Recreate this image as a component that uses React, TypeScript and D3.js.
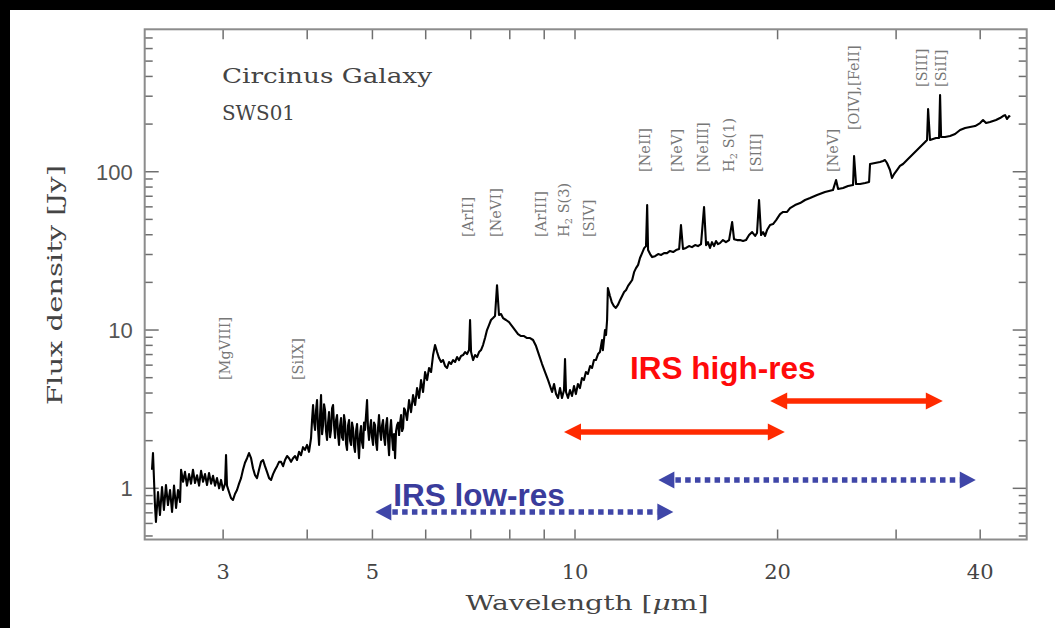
import React from "react";
import * as d3 from "d3";

const W = 1055;
const H = 628;

// Circinus Galaxy ISO-SWS01 spectrum: [wavelength (µm), flux density (Jy)]
const spectrum: [number, number][] = [
  [2.352, 1.31], [2.36, 1.67], [2.376, 0.784], [2.384, 0.613], [2.401, 0.948], [2.417, 0.678],
  [2.434, 1.02], [2.45, 0.73], [2.467, 1.05], [2.484, 0.784], [2.502, 0.976], [2.519, 0.709],
  [2.536, 1.04], [2.554, 0.751], [2.571, 0.976], [2.589, 0.82], [2.598, 1.31], [2.616, 1.1],
  [2.633, 1.27], [2.651, 1.04], [2.67, 1.23], [2.688, 1.07], [2.706, 1.31], [2.725, 1.08],
  [2.744, 1.21], [2.763, 1.04], [2.782, 1.29], [2.801, 1.1], [2.82, 1.23], [2.839, 1.05],
  [2.859, 1.25], [2.879, 1.07], [2.898, 1.2], [2.918, 1.04], [2.938, 1.16], [2.959, 1.0],
  [2.979, 1.13], [2.999, 0.976], [3.02, 1.07], [3.03, 1.62], [3.04, 1.04], [3.061, 0.948],
  [3.082, 0.869], [3.103, 0.844], [3.124, 0.921], [3.146, 0.976], [3.168, 1.07], [3.19, 1.16],
  [3.211, 1.31], [3.233, 1.45], [3.256, 1.55], [3.278, 1.67], [3.301, 1.55], [3.323, 1.34],
  [3.346, 1.21], [3.369, 1.16], [3.392, 1.31], [3.416, 1.47], [3.439, 1.51], [3.462, 1.38],
  [3.486, 1.27], [3.511, 1.16], [3.535, 1.13], [3.559, 1.23], [3.584, 1.31], [3.608, 1.38],
  [3.633, 1.47], [3.658, 1.47], [3.683, 1.38], [3.708, 1.51], [3.734, 1.6], [3.759, 1.55],
  [3.785, 1.47], [3.811, 1.55], [3.837, 1.6], [3.863, 1.51], [3.89, 1.7], [3.916, 1.62],
  [3.943, 1.82], [3.97, 1.75], [3.998, 1.88], [4.025, 1.7], [4.053, 2.08], [4.067, 2.7],
  [4.081, 3.36], [4.095, 2.62], [4.109, 2.34], [4.123, 3.12], [4.137, 3.61], [4.151, 2.4],
  [4.166, 1.88], [4.18, 2.9], [4.194, 3.88], [4.209, 2.2], [4.223, 2.51], [4.237, 3.4],
  [4.252, 3.12], [4.266, 2.3], [4.281, 2.02], [4.296, 2.6], [4.31, 3.03], [4.325, 2.1],
  [4.34, 2.34], [4.355, 3.2], [4.37, 3.36], [4.385, 2.5], [4.4, 2.08], [4.415, 2.7],
  [4.43, 2.9], [4.445, 2.2], [4.46, 1.88], [4.476, 2.5], [4.491, 2.78], [4.506, 2.1],
  [4.522, 2.02], [4.537, 2.9], [4.553, 2.62], [4.569, 1.9], [4.584, 1.75], [4.6, 2.5],
  [4.616, 2.7], [4.632, 2.0], [4.648, 1.88], [4.663, 2.6], [4.679, 2.4], [4.695, 1.85],
  [4.711, 1.7], [4.727, 2.3], [4.744, 2.55], [4.76, 1.9], [4.776, 1.55], [4.793, 2.2],
  [4.809, 2.47], [4.825, 1.95], [4.842, 1.8], [4.858, 2.6], [4.875, 2.34], [4.892, 2.9],
  [4.909, 3.61], [4.925, 2.4], [4.942, 2.02], [4.959, 2.4], [4.976, 2.7], [4.993, 2.1],
  [5.011, 1.88], [5.028, 2.6], [5.045, 2.51], [5.062, 1.95], [5.08, 1.75], [5.097, 2.4],
  [5.114, 2.9], [5.132, 2.3], [5.15, 2.02], [5.167, 2.5], [5.185, 2.7], [5.203, 2.1],
  [5.221, 1.88], [5.239, 2.5], [5.257, 2.78], [5.275, 2.0], [5.293, 1.62], [5.311, 2.3],
  [5.329, 2.7], [5.348, 2.1], [5.366, 1.75], [5.384, 2.2], [5.403, 1.55], [5.421, 2.3],
  [5.44, 2.51], [5.459, 2.6], [5.477, 2.17], [5.496, 2.6], [5.515, 2.9], [5.534, 2.3],
  [5.553, 2.4], [5.572, 3.2], [5.591, 3.12], [5.629, 2.7],
  [5.668, 3.61], [5.706, 3.03], [5.746, 3.88], [5.786, 3.36], [5.825, 4.3], [5.865, 3.72],
  [5.905, 4.83], [5.946, 4.06], [5.987, 5.43], [6.028, 4.83], [6.069, 5.76], [6.111, 5.43],
  [6.153, 6.95], [6.195, 8.04], [6.238, 7.26], [6.28, 6.65], [6.324, 6.28], [6.367, 6.46],
  [6.411, 5.93], [6.455, 5.76], [6.499, 6.28], [6.544, 6.1], [6.589, 6.46], [6.634, 6.28],
  [6.679, 6.75], [6.725, 6.46], [6.771, 6.85], [6.818, 6.95], [6.865, 7.26], [6.912, 7.05],
  [6.959, 7.47], [6.983, 11.57], [7.007, 7.26], [7.055, 6.46], [7.103, 6.95], [7.152, 6.75],
  [7.201, 7.26], [7.25, 7.47], [7.3, 8.04], [7.35, 8.9], [7.4, 10.0], [7.451, 10.75],
  [7.502, 11.57], [7.554, 11.9], [7.606, 12.26], [7.658, 19.2], [7.71, 12.44], [7.764, 12.62],
  [7.817, 11.9], [7.898, 11.57], [7.979, 11.23], [8.062, 10.6], [8.145, 10.0], [8.229, 9.42],
  [8.314, 9.16], [8.4, 9.16], [8.487, 8.9], [8.574, 8.9], [8.663, 8.65], [8.752, 7.92],
  [8.843, 6.95], [8.934, 6.1], [9.026, 5.43], [9.12, 4.83], [9.182, 4.43], [9.245, 4.06],
  [9.308, 4.56], [9.371, 3.94], [9.435, 3.72], [9.5, 4.3], [9.565, 3.72], [9.63, 4.18],
  [9.664, 6.56], [9.697, 4.06], [9.763, 3.72], [9.83, 4.18], [9.897, 3.83], [9.966, 4.43],
  [10.03, 3.94], [10.1, 4.56], [10.17, 4.3], [10.24, 4.97], [10.31, 4.83], [10.38, 5.43],
  [10.45, 5.28], [10.53, 5.93], [10.6, 5.76], [10.67, 6.46], [10.74, 6.46], [10.82, 7.05],
  [10.89, 7.26], [10.97, 8.65], [11.0, 7.47], [11.08, 10.0], [11.12, 9.3], [11.16, 11.57],
  [11.19, 18.4], [11.27, 16.4], [11.34, 15.0], [11.42, 14.2], [11.5, 13.8], [11.58, 14.4],
  [11.67, 15.5], [11.75, 16.4], [11.83, 17.4], [11.91, 17.9], [11.99, 19.0], [12.07, 19.8],
  [12.16, 20.7], [12.24, 23.2], [12.32, 24.6], [12.41, 25.8], [12.49, 28.5], [12.58, 30.6],
  [12.67, 32.9], [12.75, 33.9], [12.8, 61.6], [12.84, 32.0], [12.93, 30.2], [13.02, 28.9],
  [13.15, 29.3], [13.29, 30.2], [13.43, 29.8], [13.56, 30.6], [13.7, 30.6], [13.84, 31.6],
  [13.99, 31.1], [14.13, 32.0], [14.28, 32.5], [14.37, 46.1], [14.47, 32.5], [14.62, 33.0],
  [14.77, 33.9], [14.92, 33.4], [15.08, 34.4], [15.23, 33.9], [15.39, 34.9], [15.55, 59.8],
  [15.66, 34.4], [15.76, 35.9], [15.87, 33.0], [15.98, 35.9], [16.09, 33.9], [16.2, 36.5],
  [16.31, 34.9], [16.42, 35.4], [16.59, 37.0], [16.76, 35.9], [16.94, 37.0], [17.12, 48.1],
  [17.23, 37.5], [17.41, 37.0], [17.59, 37.0], [17.77, 36.5], [17.95, 37.0], [18.14, 39.8],
  [18.33, 41.6], [18.52, 39.3], [18.64, 41.0], [18.77, 66.3], [18.9, 39.8], [19.03, 41.6],
  [19.16, 39.3], [19.29, 42.8], [19.49, 46.1], [19.69, 46.7], [19.9, 49.5], [20.17, 54.0],
  [20.38, 55.7], [20.66, 55.7], [20.87, 58.9], [21.23, 61.6], [21.6, 63.4], [21.97, 66.3],
  [22.35, 68.2], [22.89, 71.2], [23.52, 74.4], [24.17, 76.6], [24.43, 88.6], [24.6, 77.8],
  [25.02, 78.9], [25.45, 81.2], [25.89, 82.4], [25.98, 125.7], [26.16, 83.6], [26.52, 83.6],
  [26.98, 84.8], [27.35, 86.1], [27.44, 111.9], [27.91, 113.5], [28.39, 115.2], [28.69, 116.9],
  [28.88, 118.6], [29.08, 113.5], [29.38, 102.5], [29.58, 91.2], [29.79, 96.6], [30.09, 102.5],
  [30.4, 108.8], [30.72, 111.9], [31.14, 118.6], [31.68, 127.5], [32.23, 137.1], [32.79, 147.5],
  [33.13, 154.1], [33.35, 158.6], [33.47, 249], [33.69, 158.6], [34.04, 161.0], [34.39, 163.3],
  [34.75, 163.3], [34.87, 305], [34.99, 165.7], [35.47, 165.7], [36.08, 168.0], [36.71, 173.0],
  [37.34, 183.4], [37.99, 188.8], [38.64, 191.6], [39.31, 194.3], [39.99, 203.1], [40.39, 212.2],
  [40.81, 203.1], [41.37, 206.0], [41.8, 209.1], [42.23, 212.2], [42.81, 218.4], [43.25, 224.8],
  [43.55, 228], [43.85, 215.3], [44.15, 224.8], [44.3, 221.6],
];

// Axis ranges and ticks
const xDomain: [number, number] = [2.294, 46.9];
const yDomain: [number, number] = [0.475, 794];
const xTicks = [3, 4, 5, 6, 7, 8, 9, 10, 20, 30, 40];
const xTickLabels = [3, 5, 10, 20, 40];
const yMajorTicks = [1, 10, 100];
const yMinorTicks = [0.5, 0.6, 0.7, 0.8, 0.9, 2, 3, 4, 5, 6, 7, 8, 9, 20, 30, 40, 50, 60, 70, 80, 90, 200, 300, 400, 500, 600, 700];

// Emission line labels: label wavelength, flux level at label start
const lineLabels: { text: string; wl: number; at: number; sub?: [string, string, string] }[] = [
  { text: "[MgVIII]", wl: 3.02, at: 4.83 },
  { text: "[SiIX]", wl: 3.88, at: 4.83 },
  { text: "[ArII]", wl: 6.94, at: 38.7 },
  { text: "[NeVI]", wl: 7.63, at: 38.7 },
  { text: "[ArIII]", wl: 8.9, at: 38.7 },
  { text: "H2 S(3)", wl: 9.63, at: 38.7, sub: ["H", "2", " S(3)"] },
  { text: "[SIV]", wl: 10.49, at: 38.7 },
  { text: "[NeII]", wl: 12.71, at: 99.6 },
  { text: "[NeV]", wl: 14.18, at: 99.6 },
  { text: "[NeIII]", wl: 15.5, at: 99.6 },
  { text: "H2 S(1)", wl: 16.94, at: 99.6, sub: ["H", "2", " S(1)"] },
  { text: "[SIII]", wl: 18.58, at: 99.6 },
  { text: "[NeV]", wl: 24.17, at: 99.6 },
  { text: "[OIV],[FeII]", wl: 25.98, at: 183.4 },
  { text: "[SIII]", wl: 32.79, at: 343 },
  { text: "[SiII]", wl: 34.99, at: 343 },
];

// IRS coverage arrows: [from µm, to µm, flux level]
const highResRanges: [number, number, number][] = [
  [9.63, 20.5, 2.27],
  [19.5, 35.2, 3.56],
];
const lowResRanges: [number, number, number][] = [
  [5.05, 14.0, 0.709],
  [13.3, 39.4, 1.13],
];
const highResLabel = { text: "IRS high-res", wl: 12.07, at: 4.9 };
const lowResLabel = { text: "IRS low-res", wl: 5.37, at: 0.775 };

const RED = "#ff2a00";
const BLUE = "#3f46a8";
const SERIF = "'DejaVu Serif', 'Liberation Serif', serif";
const SANS = "'Liberation Sans', Arial, sans-serif";

export default function App() {
  const x = d3.scaleLog().domain(xDomain).range([144.7, 1026.7]);
  const y = d3.scaleLog().domain(yDomain).range([539.5, 29.3]);
  const [x0, x1] = x.range();
  const [y0, y1] = y.range();

  const line = d3
    .line<[number, number]>()
    .x((d) => x(d[0]))
    .y((d) => y(d[1]));

  const arrowHeads = (a: number, b: number, yy: number, len: number, hw: number) => {
    const xa = x(a);
    const xb = x(b);
    const left = `M${xa},${yy} L${xa + len},${yy - hw} L${xa + len},${yy + hw} Z`;
    const right = `M${xb},${yy} L${xb - len},${yy - hw} L${xb - len},${yy + hw} Z`;
    return left + " " + right;
  };

  const tickColor = "#6f6f6f";

  return (
    <div style={{ position: "absolute", left: 0, top: 0 }}>
      <svg width={W} height={H} style={{ display: "block" }}>
        <rect x={0} y={0} width={W} height={H} fill="#000" />
        <rect x={10} y={10} width={W - 10} height={H - 10} fill="#fff" />

        {/* ticks */}
        <g stroke={tickColor} strokeWidth={1.5}>
          {xTicks.map((t) => (
            <g key={"xt" + t}>
              <line x1={x(t)} x2={x(t)} y1={y0} y2={y0 - 10} />
              <line x1={x(t)} x2={x(t)} y1={y1} y2={y1 + 10} />
            </g>
          ))}
          {yMajorTicks.map((t) => (
            <g key={"ym" + t}>
              <line x1={x0} x2={x0 + 14} y1={y(t)} y2={y(t)} />
              <line x1={x1} x2={x1 - 14} y1={y(t)} y2={y(t)} />
            </g>
          ))}
          {yMinorTicks.map((t) => (
            <g key={"yn" + t}>
              <line x1={x0} x2={x0 + 8} y1={y(t)} y2={y(t)} />
              <line x1={x1} x2={x1 - 8} y1={y(t)} y2={y(t)} />
            </g>
          ))}
        </g>
        <rect x={x0} y={y1} width={x1 - x0} height={y0 - y1} fill="none" stroke="#8c8c8c" strokeWidth={2} />

        {/* tick labels */}
        {xTickLabels.map((t) => (
          <text key={"xl" + t} x={x(t)} y={y0 + 39} textAnchor="middle" fontFamily={SERIF} fontSize={21} fill="#444">
            {t}
          </text>
        ))}
        {yMajorTicks.map((t) => (
          <text key={"yl" + t} x={x0 - 12} y={y(t)} dy="0.36em" textAnchor="end" fontFamily={SANS} fontSize={22} fill="#555">
            {t}
          </text>
        ))}

        {/* axis titles */}
        <text x={587} y={610} textAnchor="middle" fontFamily={SERIF} fontSize={21} fill="#444" textLength={243} lengthAdjust="spacingAndGlyphs">
          Wavelength [<tspan fontStyle="italic">μ</tspan>m]
        </text>
        <text
          transform={`translate(62,285) rotate(-90)`}
          textAnchor="middle"
          fontFamily={SERIF}
          fontSize={21}
          fill="#444"
          textLength={240}
          lengthAdjust="spacingAndGlyphs"
        >
          Flux density [Jy]
        </text>

        {/* title */}
        <text x={222} y={83} fontFamily={SERIF} fontSize={21} fill="#444" textLength={210} lengthAdjust="spacingAndGlyphs">
          Circinus Galaxy
        </text>
        <text x={222} y={120} fontFamily={SERIF} fontSize={21} fill="#444" textLength={73} lengthAdjust="spacingAndGlyphs">
          SWS01
        </text>

        {/* line labels */}
        {lineLabels.map((l, i) => (
          <text
            key={"ll" + i}
            transform={`translate(${x(l.wl)},${y(l.at)}) rotate(-90)`}
            textAnchor="start"
            dominantBaseline="central"
            fontFamily={SERIF}
            fontSize={14.5}
            fill="#777"
          >
            {l.sub ? (
              <>
                {l.sub[0]}
                <tspan fontSize={10} dy="4">{l.sub[1]}</tspan>
                <tspan dy="-4">{l.sub[2]}</tspan>
              </>
            ) : (
              l.text
            )}
          </text>
        ))}

        {/* spectrum */}
        <path d={line(spectrum) || ""} fill="none" stroke="#000" strokeWidth={2.1} strokeLinejoin="round" />

        {/* IRS high-res arrows */}
        {highResRanges.map(([a, b, f], i) => (
          <g key={"hr" + i}>
            <line x1={x(a) + 14} x2={x(b) - 14} y1={y(f)} y2={y(f)} stroke={RED} strokeWidth={5.5} />
            <path d={arrowHeads(a, b, y(f), 17, 8.5)} fill={RED} />
          </g>
        ))}
        <text x={x(highResLabel.wl)} y={y(highResLabel.at)} fontFamily={SANS} fontWeight="bold" fontSize={31.5} fill="#ff0a0a">
          {highResLabel.text}
        </text>

        {/* IRS low-res arrows */}
        {lowResRanges.map(([a, b, f], i) => (
          <g key={"lr" + i}>
            <line
              x1={x(a) + 17}
              x2={x(b) - 16}
              y1={y(f)}
              y2={y(f)}
              stroke={BLUE}
              strokeWidth={5.5}
              strokeDasharray="5.5 4.3"
            />
            <path d={arrowHeads(a, b, y(f), 16, 8.5)} fill={BLUE} />
          </g>
        ))}
        <text x={x(lowResLabel.wl)} y={y(lowResLabel.at)} fontFamily={SANS} fontWeight="bold" fontSize={31.5} fill="#3a3c9c">
          {lowResLabel.text}
        </text>
      </svg>
    </div>
  );
}
